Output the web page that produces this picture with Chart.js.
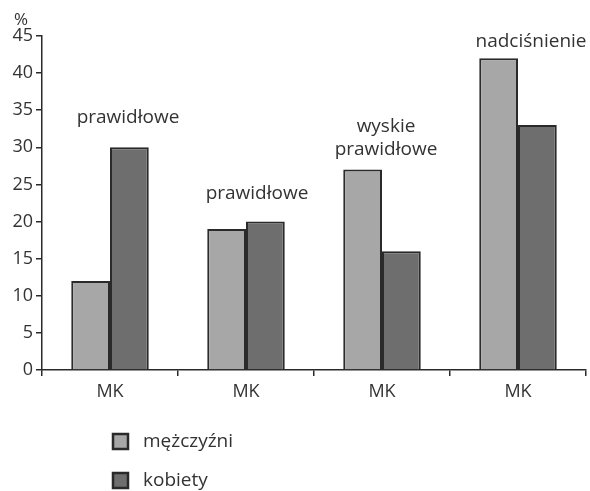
<!DOCTYPE html>
<html>
<head>
<meta charset="utf-8">
<script src="https://cdn.jsdelivr.net/npm/chart.js@4/dist/chart.umd.min.js"></script>
<style>
  html, body { margin: 0; padding: 0; background: #fff; }
  #wrap { width: 590px; height: 491px; position: relative; }
</style>
</head>
<body>
<div id="wrap"><canvas id="c" width="590" height="491"></canvas></div>
<script>
// Categories and per-group captions
const categories = ['MK', 'MK', 'MK', 'MK'];
const groupCaptions = [['prawidłowe'], ['prawidłowe'], ['wyskie', 'prawidłowe'], ['nadciśnienie']];
// Series values (%)
const men = [12, 19, 27, 42];
const women = [30, 20, 16, 33];
const seriesNames = ['mężczyźni', 'kobiety'];
const yTicks = [0, 5, 10, 15, 20, 25, 30, 35, 40, 45];

const FONT = '"Open Sans", "Noto Sans", sans-serif';
const TEXT = '#333333';
const LIGHT = '#a7a7a7';
const DARK = '#6e6e6e';
const EDGE = '#2a2a2a';

// Captions above each bar group, anchored to the taller bar of the group
const captionPlugin = {
  id: 'captions',
  afterDatasetsDraw(chart) {
    const { ctx, scales: { x, y } } = chart;
    const shifts = [18, 11, 4, 13];
    const gaps = [24, 23, 15, 11];
    ctx.save();
    ctx.font = '19px ' + FONT;
    ctx.fillStyle = TEXT;
    ctx.textAlign = 'center';
    ctx.textBaseline = 'alphabetic';
    groupCaptions.forEach((lines, i) => {
      const top = Math.max(men[i], women[i]);
      const cx = x.getPixelForValue(i) + shifts[i];
      const base = y.getPixelForValue(top) - gaps[i];
      lines.forEach((ln, k) => {
        ctx.fillText(ln, cx, base - (lines.length - 1 - k) * 23);
      });
    });
    // unit label above the value axis
    ctx.font = '17px ' + FONT;
    ctx.textAlign = 'left';
    ctx.fillText('%', 14, 25);
    ctx.restore();
  }
};

// Vertical legend under the plot
const legendPlugin = {
  id: 'vlegend',
  afterDraw(chart) {
    const { ctx } = chart;
    ctx.save();
    ctx.font = '19px ' + FONT;
    ctx.textBaseline = 'middle';
    chart.data.datasets.forEach((ds, i) => {
      const yy = 442 + i * 39;
      ctx.fillStyle = ds.backgroundColor;
      ctx.fillRect(113, yy - 8, 15, 15);
      ctx.strokeStyle = EDGE;
      ctx.lineWidth = 2.5;
      ctx.strokeRect(113, yy - 8, 15, 15);
      ctx.fillStyle = TEXT;
      ctx.fillText(ds.label, 143, yy);
    });
    ctx.restore();
  }
};

new Chart(document.getElementById('c'), {
  type: 'bar',
  data: {
    labels: categories,
    datasets: [
      { label: seriesNames[0], data: men, backgroundColor: LIGHT, borderColor: EDGE, borderWidth: 2 },
      { label: seriesNames[1], data: women, backgroundColor: DARK, borderColor: EDGE, borderWidth: 2 }
    ]
  },
  options: {
    responsive: false,
    animation: false,
    devicePixelRatio: 1,
    layout: { padding: { top: 36, left: 0, right: 4, bottom: 91 } },
    datasets: { bar: { categoryPercentage: 0.57, barPercentage: 1.0 } },
    plugins: { legend: { display: false }, tooltip: { enabled: false } },
    scales: {
      x: {
        grid: { display: true, drawOnChartArea: false, drawTicks: true, tickLength: 6, color: EDGE, offset: true, lineWidth: 1.5 },
        border: { display: true, color: EDGE, width: 1.5 },
        ticks: { color: TEXT, font: { family: FONT, size: 18 }, padding: 5 },
        afterFit(s) { s.height = 30; }
      },
      y: {
        min: 0, max: 45,
        afterBuildTicks(s) { s.ticks = yTicks.map(v => ({ value: v })); },
        grid: { display: true, drawOnChartArea: false, drawTicks: true, tickLength: 6, color: EDGE, lineWidth: 1.5 },
        border: { display: true, color: EDGE, width: 1.5 },
        ticks: { color: TEXT, font: { family: FONT, size: 18 }, padding: 3 },
        afterFit(s) { s.width = 42; }
      }
    }
  },
  plugins: [captionPlugin, legendPlugin]
});
</script>
</body>
</html>
